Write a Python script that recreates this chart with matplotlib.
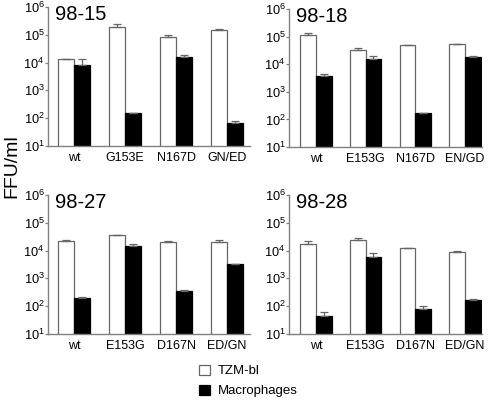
import matplotlib
matplotlib.use("Agg")
import matplotlib.pyplot as plt
from matplotlib.patches import Rectangle
import numpy as np

plt.rcParams['font.family'] = ['Liberation Sans', 'DejaVu Sans']
plt.rcParams['mathtext.fontset'] = 'custom'
plt.rcParams['mathtext.rm'] = 'Liberation Sans'
plt.rcParams['mathtext.it'] = 'Liberation Sans'

titles = ["98-15", "98-18", "98-27", "98-28"]
cats = [["wt", "G153E", "N167D", "GN/ED"],
        ["wt", "E153G", "N167D", "EN/GD"],
        ["wt", "E153G", "D167N", "ED/GN"],
        ["wt", "E153G", "D167N", "ED/GN"]]
tzm = [[1.3e4, 1.9e5, 8.5e4, 1.55e5],
       [1.1e5, 3.2e4, 4.8e4, 5.4e4],
       [2.3e4, 3.6e4, 2.1e4, 2.1e4],
       [1.8e4, 2.35e4, 1.25e4, 9.1e3]]
tzm_err = [[3e2, 5e4, 1.5e4, 5e3],
           [2e4, 7e3, 1.5e3, 2e3],
           [8e2, 1.5e3, 8e2, 3.5e3],
           [4e3, 4.5e3, 4e2, 9e2]]
mac = [[8.5e3, 148, 1.55e4, 65],
       [3.8e3, 1.6e4, 170, 1.9e4],
       [195, 1.5e4, 350, 3.3e3],
       [46, 6e3, 82, 174]]
mac_err = [[5e3, 3, 3.5e3, 15],
           [7e2, 4e3, 6, 6e2],
           [15, 3e3, 40, 1e2],
           [15, 2.1e3, 18, 13]]
yticks = [10, 1e2, 1e3, 1e4, 1e5, 1e6]
ytick_labels = [r"$10^{1}$", r"$10^{2}$", r"$10^{3}$", r"$10^{4}$", r"$10^{5}$", r"$10^{6}$"]

W, H = 500, 400
fig = plt.figure(figsize=(5, 4), dpi=100)

# axes rectangles in pixels: (left, top, right, bottom)
rects = [(48, 7, 250, 146), (289, 9, 482, 147), (48, 195, 250, 334), (289, 195, 482, 334)]
xlims = [(-0.51, 3.45), (-0.54, 3.34), (-0.51, 3.45), (-0.54, 3.34)]
axis_col = '#808080'
bw = 0.315

for i in range(4):
    l, t, r, b = rects[i]
    ax = fig.add_axes([l / W, 1 - b / H, (r - l) / W, (b - t) / H])
    x = np.arange(4)
    ax.bar(x - bw / 2, tzm[i], width=bw, color='white', edgecolor='#666666', linewidth=0.9,
           yerr=[np.zeros(4), tzm_err[i]], error_kw=dict(ecolor='#666666', elinewidth=0.9, capsize=3.2, capthick=0.9),
           zorder=2)
    ax.bar(x + bw / 2, mac[i], width=bw, color='black', edgecolor='black', linewidth=0.9,
           yerr=[np.zeros(4), mac_err[i]], error_kw=dict(ecolor='#666666', elinewidth=0.9, capsize=3.2, capthick=0.9),
           zorder=2)
    ax.set_yscale('log')
    ax.set_ylim(10, 1e6)
    ax.set_xlim(*xlims[i])
    ax.set_yticks(yticks)
    ax.set_yticklabels(ytick_labels, fontsize=9.2)
    ax.yaxis.set_minor_locator(matplotlib.ticker.NullLocator())
    ax.set_xticks(x)
    ax.set_xticklabels(cats[i], fontsize=9)
    ax.tick_params(axis='x', length=0, pad=4)
    ax.tick_params(axis='y', length=2, pad=0.5, color=axis_col, width=0.9)
    for s in ['top', 'right']:
        ax.spines[s].set_visible(False)
    for s in ['left', 'bottom']:
        ax.spines[s].set_color(axis_col)
        ax.spines[s].set_linewidth(1.0)
    fig.text((l + 7) / W, 1 - (t + 8) / H, titles[i], fontsize=14.5, ha='left', va='center')

fig.text(12 / W, 1 - 166 / H, "FFU/ml", rotation=90, fontsize=14, ha='center', va='center')

# legend
fig.patches.append(Rectangle((199 / W, 1 - 375 / H), 11 / W, 10 / H, transform=fig.transFigure,
                             facecolor='white', edgecolor='#666666', linewidth=0.9))
fig.patches.append(Rectangle((199 / W, 1 - 395 / H), 11 / W, 10 / H, transform=fig.transFigure,
                             facecolor='black', edgecolor='black', linewidth=0.9))
fig.text(218 / W, 1 - 371 / H, "TZM-bl", fontsize=9.5, ha='left', va='center')
fig.text(218 / W, 1 - 391 / H, "Macrophages", fontsize=9.5, ha='left', va='center')

fig.savefig("out.png", dpi=100)
